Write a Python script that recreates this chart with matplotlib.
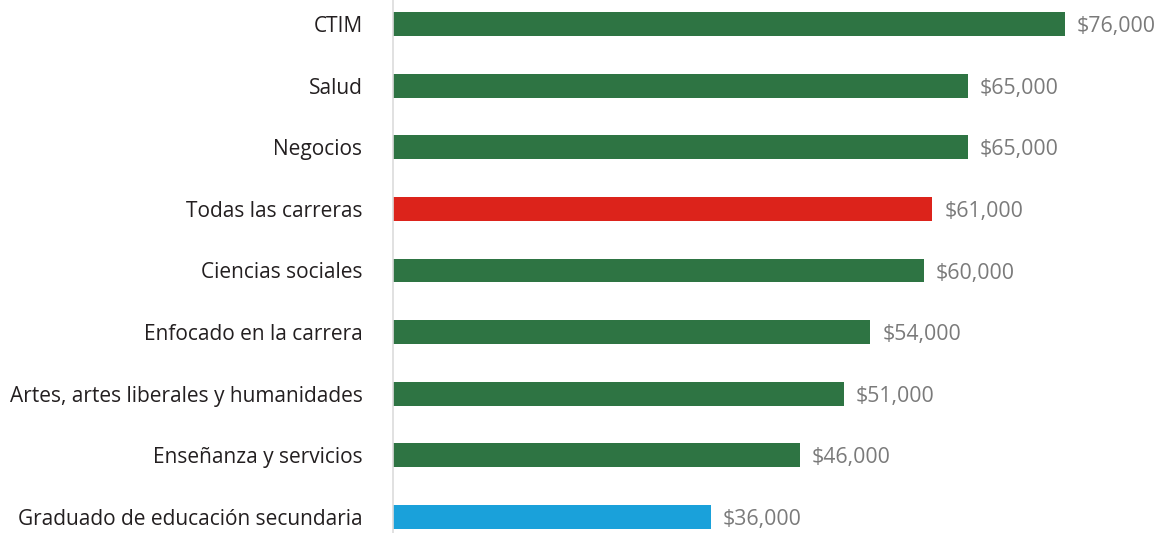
import matplotlib.pyplot as plt

categories = [
    "CTIM",
    "Salud",
    "Negocios",
    "Todas las carreras",
    "Ciencias sociales",
    "Enfocado en la carrera",
    "Artes, artes liberales y humanidades",
    "Enseñanza y servicios",
    "Graduado de educación secundaria",
]
salaries = [76000, 65000, 65000, 61000, 60000, 54000, 51000, 46000, 36000]
bar_colors = ["#2e7443", "#2e7443", "#2e7443", "#dc231b", "#2e7443",
              "#2e7443", "#2e7443", "#2e7443", "#1aa1da"]

W, H = 1164, 533
fig = plt.figure(figsize=(W / 100, H / 100), dpi=100)
left = 393 / W
ax = fig.add_axes([left, 0, 1 - left, 1])

step = 61.625
ax.barh(range(len(categories)), salaries, height=24 / step, color=bar_colors)
ax.set_xlim(0, (W - 393) / (672 / 76000))
ax.set_ylim(8 + (H - 517) / step, -24 / step)

for i, v in enumerate(salaries):
    ax.annotate(f"${v:,}", (v, i), xytext=(8.5, 0), textcoords="offset points",
                va="center_baseline", ha="left", fontsize=15.3, color="#7a7a7a",
                family="Open Sans")

ax.set_yticks(range(len(categories)))
ax.set_yticklabels(categories, fontsize=15, color="#231f20", family="Open Sans",
                   va="center_baseline")
ax.tick_params(axis="y", length=0, pad=22)
ax.set_xticks([])
for s in ["top", "right", "bottom"]:
    ax.spines[s].set_visible(False)
ax.spines["left"].set_color("#dcdcdc")
ax.spines["left"].set_linewidth(1.2)

fig.savefig("out.png", dpi=100)
